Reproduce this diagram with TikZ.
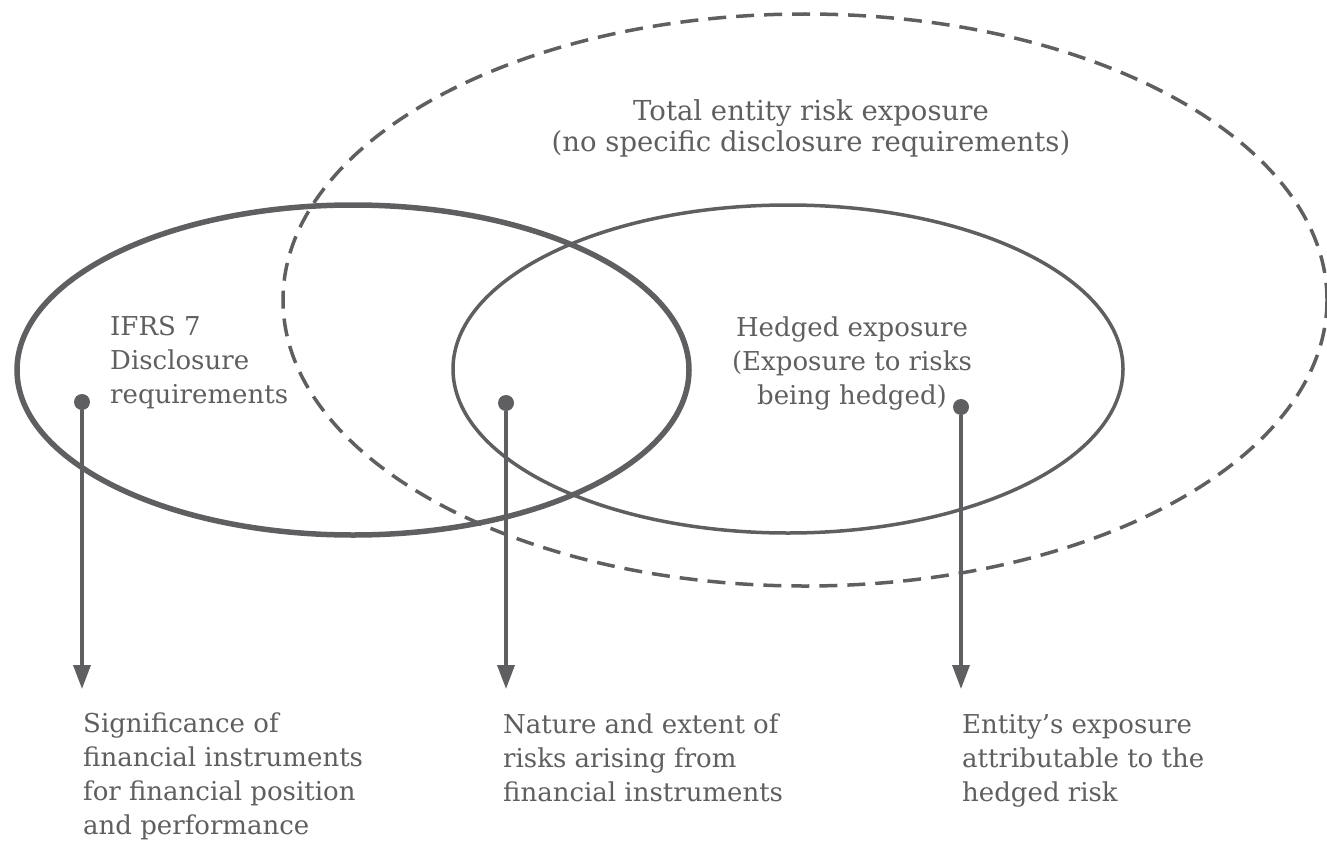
\documentclass[tikz,border=0pt]{standalone}
\usepackage{fontspec}
\setmainfont{DejaVu Serif}
\usepackage{tikz}
\usetikzlibrary{arrows.meta}
\definecolor{riskgray}{HTML}{5F5F61}
\tikzstyle{graydot}=[circle,draw=none,fill=riskgray,
                     inner sep=0pt,minimum size=16pt]
\tikzstyle{label}=[inner sep=0pt,text=riskgray,
                   font=\fontsize{26}{33.8}\selectfont]
\tikzstyle{pointer}=[draw=riskgray,line width=3.5pt,
                     -{Triangle[width=17pt,length=24pt]}]

\begin{document}
\begin{tikzpicture}[x=1pt,y=-1pt]
    \newcommand{\tipy}{689}
    \useasboundingbox (0,0) rectangle (1327,843);
    % the three sets
    \draw[riskgray,line width=3.5pt,dash pattern=on 18pt off 10pt]
        (805,300) ellipse [x radius=522,y radius=286];
    \draw[riskgray,line width=5.5pt]
        (353,370) ellipse [x radius=336,y radius=165];
    \draw[riskgray,line width=3.5pt]
        (788,369) ellipse [x radius=335,y radius=164];
    % texts in the sets (base = last line)
    \node (total) at (811,151) [label,align=center,anchor=base,
                                font=\fontsize{27.5}{31}\selectfont]
        {Total entity risk exposure\\(no specific disclosure requirements)};
    \node (ifrs) at (110,403) [label,align=left,anchor=base west]
        {IFRS 7\\Disclosure\\requirements};
    \node (hedged) at (852,404) [label,align=center,anchor=base]
        {Hedged exposure\\(Exposure to risks\\being hedged)};
    % dots and arrows
    \node (d1) at ( 82,402) [graydot]{};
    \node (d2) at (506,403) [graydot]{};
    \node (d3) at (961,407) [graydot]{};
    \coordinate (e1) at ( 82,\tipy);
    \coordinate (e2) at (506,\tipy);
    \coordinate (e3) at (961,\tipy);
    \draw[pointer] (d1) -- (e1);
    \draw[pointer] (d2) -- (e2);
    \draw[pointer] (d3) -- (e3);
    % what each set discloses
    \node (signif) at ( 83,834) [label,align=left,anchor=base west]
        {Significance of\\financial instruments\\for financial position\\and performance};
    \node (nature) at (503,801) [label,align=left,anchor=base west]
        {Nature and extent of\\risks arising from\\financial instruments};
    \node (entity) at (962,801) [label,align=left,anchor=base west]
        {Entity’s exposure\\attributable to the\\hedged risk};
\end{tikzpicture}
\end{document}
